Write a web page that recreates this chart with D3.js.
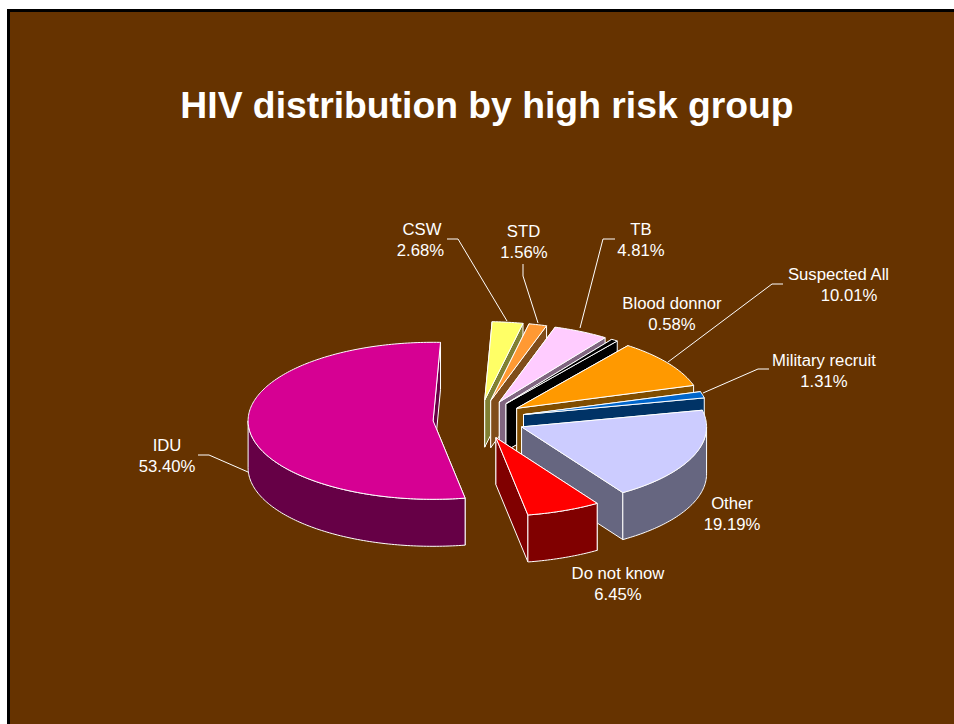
<!DOCTYPE html>
<html><head><meta charset="utf-8"><script src="https://cdnjs.cloudflare.com/ajax/libs/d3/7.8.5/d3.min.js"></script>
<style>html,body{margin:0;padding:0;background:#fff;overflow:hidden}svg{display:block}</style></head><body>
<svg id="c" width="954" height="724"></svg>
<script>
const categories=["CSW","STD","TB","Blood donnor","Suspected All","Military recruit","Other","Do not know","IDU"];
const shares=[2.68,1.56,4.81,0.58,10.01,1.31,19.19,6.45,53.40];
const shareLabels=["2.68%","1.56%","4.81%","0.58%","10.01%","1.31%","19.19%","6.45%","53.40%"];
const topColors=["#ffff66","#ff9933","#ffccff","#000000","#ff9900","#0066cc","#ccccff","#ff0000","#d60093"];
const wallColors=["#808033","#804d1a","#806680","#000000","#804d00","#003366","#666680","#800000","#660046"];
const title="HIV distribution by high risk group";
const labelLayout=[[422,235,420.5,256],[523.5,237,524,258],[641,235,641,256],[672,309,672,330],[838.5,280,849,301],[824,366,824,387],[732,509,732,530],[618,579,618,600],[167,451,167,472]];
const leaders=[[[447,239],[458,239],[507,321]],[[523,264],[523,276],[538,323]],[[615,239],[603,239],[580,328]],null,[[783,284],[772,284],[668,362]],[[769,369],[758,369],[703,393]],null,null,[[198,455],[209,455],[248,472]]];

const cx=479,cy=419.5,R=185,Ry=78.5,explode=46,depth=47;
const svg=d3.select("#c");
svg.append("rect").attr("width",954).attr("height",724).attr("fill","#fff");
svg.append("rect").attr("x",8.5).attr("y",10.5).attr("width",960).attr("height",740).attr("fill","#663300").attr("stroke","#000").attr("stroke-width",3);
svg.append("text").attr("x",487).attr("y",118).attr("text-anchor","middle").attr("fill","#fff")
  .attr("font-family","Liberation Sans, Arial, sans-serif").attr("font-weight","bold").attr("font-size",37.3).text(title);

const start=2.3*Math.PI/180;
const arcs=d3.pie().sort(null).startAngle(start).endAngle(start+2*Math.PI)(shares);
const line=d3.line();
const g=svg.append("g").attr("stroke","#fff").attr("stroke-width",1).attr("stroke-linejoin","round");
arcs.forEach((a,i)=>{
  const mid=(a.startAngle+a.endAngle)/2;
  const ax=cx+explode*Math.sin(mid), ay=cy-explode*Ry/R*Math.cos(mid);
  const P=t=>[ax+R*Math.sin(t),ay-Ry*Math.cos(t)];
  const down=p=>[p[0],p[1]+depth];
  const A=[ax,ay];
  const wall=t=>[A,P(t),down(P(t)),down(A)];
  const step=Math.PI/180;
  g.append("path").attr("d",line(wall(a.startAngle))+"Z").attr("fill",wallColors[i]);
  g.append("path").attr("d",line(wall(a.endAngle))+"Z").attr("fill",wallColors[i]);
  const r0=Math.max(a.startAngle,Math.PI/2), r1=Math.min(a.endAngle,1.5*Math.PI);
  if(r1>r0){
    const ts=d3.range(r0,r1,step).concat([r1]);
    const top=ts.map(P), bot=ts.map(t=>down(P(t))).reverse();
    g.append("path").attr("d",line(top.concat(bot))+"Z").attr("fill",wallColors[i]);
  }
  const ts=d3.range(a.startAngle,a.endAngle,step).concat([a.endAngle]);
  g.append("path").attr("d",line([A].concat(ts.map(P)))+"Z").attr("fill",topColors[i]);
});
const lg=svg.append("g").attr("fill","none").attr("stroke","#fff").attr("stroke-width",1);
leaders.forEach(l=>{if(l)lg.append("path").attr("d",line(l))});
const tg=svg.append("g").attr("font-family","Liberation Sans, Arial, sans-serif").attr("font-size",16.7).attr("fill","#fff").attr("text-anchor","middle");
categories.forEach((c,i)=>{
  const q=labelLayout[i];
  tg.append("text").attr("x",q[0]).attr("y",q[1]).text(c);
  tg.append("text").attr("x",q[2]).attr("y",q[3]).text(shareLabels[i]);
});
</script></body></html>
